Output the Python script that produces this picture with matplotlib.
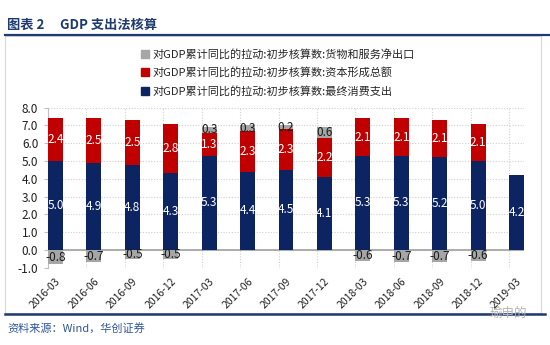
import numpy as np
import matplotlib.pyplot as plt
from matplotlib.patches import Patch, Rectangle
from matplotlib.lines import Line2D

plt.rcParams["font.family"] = ["Noto Sans CJK SC", "DejaVu Sans"]
plt.rcParams["axes.unicode_minus"] = False

# ---- data: contributions to cumulative y/y GDP growth (pct pts) ----
quarters = ["2016-03", "2016-06", "2016-09", "2016-12", "2017-03", "2017-06", "2017-09",
            "2017-12", "2018-03", "2018-06", "2018-09", "2018-12", "2019-03"]
consumption = np.array([5.0, 4.9, 4.8, 4.3, 5.3, 4.4, 4.5, 4.1, 5.3, 5.3, 5.2, 5.0, 4.2])
capital = np.array([2.4, 2.5, 2.5, 2.8, 1.3, 2.3, 2.3, 2.2, 2.1, 2.1, 2.1, 2.1, np.nan])
net_exports = np.array([-0.8, -0.7, -0.5, -0.5, 0.3, 0.3, 0.2, 0.6, -0.6, -0.7, -0.7, -0.6, np.nan])

legend_labels = ["对GDP累计同比的拉动:初步核算数:货物和服务净出口",
                 "对GDP累计同比的拉动:初步核算数:资本形成总额",
                 "对GDP累计同比的拉动:初步核算数:最终消费支出"]

NAVY = "#0c2461"
RED = "#c00000"
GRAY = "#a6a6a6"
TITLE_BLUE = "#1f3a6e"

W, H = 550, 345
fig = plt.figure(figsize=(W / 100, H / 100), dpi=100)

# header / footer decorations
fig.text(7 / W, 1 - 25 / H, "图表 2", fontsize=9.5, fontweight="bold",
         color=TITLE_BLUE, va="center", ha="left")
fig.text(60 / W, 1 - 25 / H, "GDP 支出法核算", fontsize=9.5, fontweight="bold",
         color=TITLE_BLUE, va="center", ha="left")
fig.add_artist(Rectangle((5 / W, 1 - 313 / H), 536 / W, 277 / H, transform=fig.transFigure,
                         fill=False, edgecolor="#d9d9d9", linewidth=0.8))
fig.add_artist(Line2D([5 / W, 1.0], [1 - 35 / H] * 2, transform=fig.transFigure,
                      color=TITLE_BLUE, linewidth=1.6))
fig.add_artist(Line2D([5 / W, 545 / W], [1 - 314 / H] * 2, transform=fig.transFigure,
                      color=TITLE_BLUE, linewidth=1.8))
fig.text(7 / W, 1 - 328 / H, "资料来源：Wind，华创证券", fontsize=8, color="#2f5597",
         style="italic", va="center", ha="left")
fig.text(508 / W, 1 - 313 / H, "瑜申的", fontsize=9, color="#b5b5b5", va="center", ha="center")

# ---- stacked bars ----
ax = fig.add_axes([48 / W, 1 - 267.7 / H, 476 / W, 160 / H])
x = np.arange(len(quarters))
w = 0.39

cap_vals = np.nan_to_num(capital)
nx_vals = np.nan_to_num(net_exports)
nx_bottom = np.where(nx_vals > 0, consumption + cap_vals, 0.0)

b_cons = ax.bar(x, consumption, w, color=NAVY, zorder=3)
b_cap = ax.bar(x, cap_vals, w, bottom=consumption, color=RED, zorder=3)
b_nx = ax.bar(x, nx_vals, w, bottom=nx_bottom, color=GRAY, zorder=3)

def fmt(vals):
    return ["" if np.isnan(v) else f"{v:.1f}" for v in vals]

ax.bar_label(b_cons, labels=fmt(consumption), label_type="center", color="white",
             fontsize=8.5, fontweight="medium", zorder=4)
ax.bar_label(b_cap, labels=fmt(capital), label_type="center", color="white",
             fontsize=8.5, fontweight="medium", zorder=4)
ax.bar_label(b_nx, labels=fmt(net_exports), label_type="center", color="#1a1a1a",
             fontsize=8.5, zorder=4)

ax.axhline(0, color="#a0a0a0", linewidth=1.2, zorder=2)

ax.set_xlim(-w / 2, len(quarters) - 1 + w / 2)
ax.set_ylim(-1, 8)
ax.set_yticks(np.arange(-1, 9, 1))
ax.set_yticklabels([f"{v:.1f}" for v in np.arange(-1, 9, 1)])
ax.set_xticks(x)
ax.set_xticklabels(quarters, rotation=45, ha="right", rotation_mode="anchor")
ax.set_xticks(x - w / 2, minor=True)

ax.tick_params(axis="y", labelsize=8.5, colors="#202020", length=3, width=0.8,
               color="#bfbfbf", pad=4)
ax.tick_params(axis="x", which="both", length=0, labelsize=7.5, labelcolor="#202020", pad=6)

ax.grid(axis="y", which="major", color="#cfcfcf", linestyle=(0, (1, 1.5)), linewidth=0.8, zorder=0)
ax.grid(axis="x", which="minor", color="#cfcfcf", linestyle=(0, (1, 1.5)), linewidth=0.8, zorder=0)
for side in ["top", "right", "bottom"]:
    ax.spines[side].set_visible(False)
ax.spines["left"].set_color("#bfbfbf")

handles = [Patch(color=GRAY), Patch(color=RED), Patch(color=NAVY)]
fig.legend(handles, legend_labels, loc="upper left", bbox_to_anchor=(133 / W, 1 - 41 / H),
           frameon=False, fontsize=8, handlelength=0.75, handleheight=0.75,
           handletextpad=0.3, labelspacing=0.7, borderpad=0.2, labelcolor="#262626")

fig.savefig("out.png", dpi=100, facecolor="white")
